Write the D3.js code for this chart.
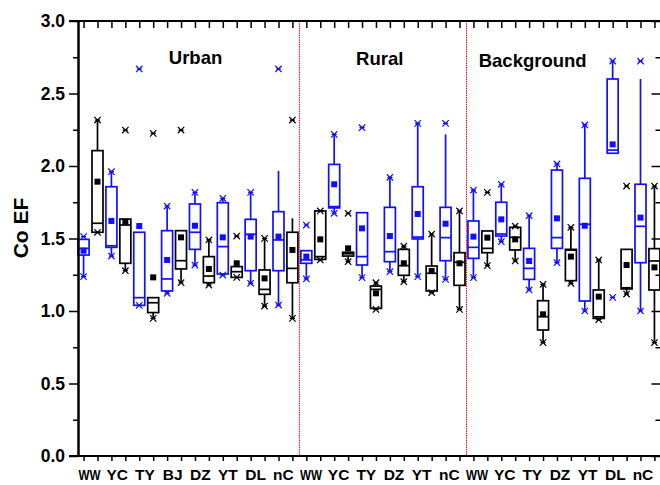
<!DOCTYPE html>
<html>
<head>
<meta charset="utf-8">
<script src="https://cdn.jsdelivr.net/npm/d3@7"></script>
<style>
  html, body { margin: 0; padding: 0; background: #fff; }
  svg { display: block; }
  text { font-family: "Liberation Sans", Arial, sans-serif; font-weight: bold; }
</style>
</head>
<body>
<script>
// Site groups and site codes along the x axis
const groups = ["Urban", "Rural", "Background"];
const urbanSites = ["WW", "YC", "TY", "BJ", "DZ", "YT", "DL", "nC"];
const ruralSites = ["WW", "YC", "TY", "DZ", "YT", "nC"];
const backgroundSites = ["WW", "YC", "TY", "DZ", "YT", "DL", "nC"];
const yTicks = [0, 0.5, 1.0, 1.5, 2.0, 2.5, 3.0];

// Blue series: box statistics per site (Urban, Rural, Background order)
const blueLow    = [1.237,1.379,1.039,1.122,1.317,1.248,1.191,1.041, 1.221,1.674,1.230,1.271,1.237,1.218, 1.230,1.478,1.145,1.333,1.000,2.088,1.000];
const blueQ1     = [1.386,1.439,1.039,1.138,1.425,1.255,1.278,1.278, 1.329,1.711,1.317,1.340,1.497,1.347, 1.363,1.517,1.218,1.432,1.069,2.088,1.333];
const blueMedian = [1.432,1.450,1.092,1.221,1.543,1.444,1.529,1.490, 1.352,1.720,1.375,1.409,1.510,1.506, 1.439,1.531,1.294,1.506,1.598,2.110,1.584];
const blueQ3     = [1.494,1.857,1.543,1.554,1.738,1.747,1.632,1.685, 1.416,2.011,1.678,1.715,1.857,1.715, 1.621,1.750,1.432,1.972,1.915,2.600,1.874];
const blueHigh   = [1.494,1.961,1.543,1.724,1.818,1.777,1.818,1.966, 1.416,2.218,1.678,1.922,2.294,2.218, 1.834,1.874,1.657,2.014,2.283,2.724,2.600];
const blueMean   = [1.416,1.621,1.586,1.352,1.588,1.508,1.513,1.513, 1.375,1.874,1.570,1.517,1.669,1.602, 1.513,1.632,1.345,1.639,1.588,2.149,1.644];
const blueMin    = [1.237,1.379,1.039,1.122,1.317,1.248,1.191,1.041, 1.221,1.674,1.230,1.271,1.237,1.218, 1.230,1.478,1.145,1.333,1.000,1.094,1.000];
const blueMax    = [1.513,1.961,2.669,1.724,1.818,1.777,1.818,2.669, 1.593,2.218,2.264,1.922,2.294,2.294, 1.834,1.874,1.657,2.014,2.283,2.724,2.724];

// Black series: box statistics per site (same order)
const blackLow    = [1.543,1.278,0.949,1.195,1.179,1.232,1.034,0.949, 1.352,1.340,1.011,1.202,1.127,1.011, 1.313,1.345,0.782,1.191,0.940,1.117,0.782];
const blackQ1     = [1.543,1.329,0.989,1.290,1.195,1.232,1.115,1.195, 1.356,1.379,1.018,1.246,1.138,1.177, 1.402,1.421,0.869,1.209,0.949,1.152,1.145];
const blackMedian = [1.605,1.593,1.057,1.347,1.241,1.271,1.149,1.294, 1.375,1.395,1.149,1.313,1.260,1.336, 1.432,1.508,0.961,1.420,0.960,1.160,1.345];
const blackQ3     = [2.106,1.634,1.092,1.554,1.375,1.306,1.283,1.543, 1.690,1.405,1.172,1.425,1.310,1.402, 1.552,1.577,1.071,1.425,1.145,1.425,1.430];
const blackHigh   = [2.317,1.634,1.092,1.554,1.490,1.306,1.501,1.639, 1.690,1.405,1.195,1.448,1.531,1.690, 1.552,1.586,1.184,1.577,1.352,1.425,1.862];
const blackMean   = [1.892,1.616,1.232,1.508,1.290,1.329,1.225,1.421, 1.494,1.432,1.122,1.329,1.276,1.329, 1.506,1.494,0.977,1.375,1.099,1.317,1.301];
const blackMin    = [1.543,1.278,0.949,1.195,1.179,1.232,1.034,0.949, 1.352,1.340,1.011,1.202,1.127,1.011, 1.313,1.345,0.782,1.191,0.940,1.117,0.782];
const blackMax    = [2.317,2.248,2.225,2.248,1.490,1.517,1.501,2.317, 1.690,1.674,1.195,1.448,1.531,1.690, 1.818,1.586,1.184,1.577,1.352,1.862,1.862];

// ---- build box records (blue then black for each site) ----
const siteLists = [urbanSites, ruralSites, backgroundSites];
const sites = [];
siteLists.forEach((list, g) => list.forEach(s => sites.push({ group: g, code: s })));

const series = [
  { color: "#1010ff", low: blueLow, q1: blueQ1, med: blueMedian, q3: blueQ3, high: blueHigh, mean: blueMean, min: blueMin, max: blueMax },
  { color: "#000000", low: blackLow, q1: blackQ1, med: blackMedian, q3: blackQ3, high: blackHigh, mean: blackMean, min: blackMin, max: blackMax }
];

const boxes = [];
sites.forEach((s, i) => {
  series.forEach((sr, k) => {
    boxes.push({
      pos: i * 2 + k, color: sr.color,
      low: sr.low[i], q1: sr.q1[i], med: sr.med[i], q3: sr.q3[i], high: sr.high[i],
      mean: sr.mean[i], min: sr.min[i], max: sr.max[i]
    });
  });
});

// ---- layout ----
const W = 660, H = 485;
const svg = d3.select("body").append("svg").attr("width", W).attr("height", H);

const x = d3.scaleLinear().domain([-0.4, boxes.length - 0.6]).range([78, 660]);
const y = d3.scaleLinear().domain([0, 3]).range([456, 21]);
const minorTicks = d3.range(0.25, 3, 0.5);

// group separators (dotted red)
const groupEnds = [];
let acc = 0;
siteLists.slice(0, -1).forEach(l => { acc += l.length * 2; groupEnds.push(acc - 0.5); });
svg.append("g").selectAll("line").data(groupEnds).join("line")
  .attr("x1", d => x(d)).attr("x2", d => x(d))
  .attr("y1", y(3)).attr("y2", y(0))
  .attr("stroke", "#ff0000").attr("stroke-width", 1)
  .attr("stroke-dasharray", "1.5,0.8");

// ---- boxes ----
const halfW = 5.5;
const bg = svg.append("g").selectAll("g").data(boxes).join("g")
  .attr("stroke", d => d.color).attr("fill", "none").attr("stroke-width", 1.7);

// whiskers
bg.append("line").attr("x1", d => x(d.pos)).attr("x2", d => x(d.pos))
  .attr("y1", d => y(d.q3)).attr("y2", d => y(d.high));
bg.append("line").attr("x1", d => x(d.pos)).attr("x2", d => x(d.pos))
  .attr("y1", d => y(d.q1)).attr("y2", d => y(d.low));
// box
bg.append("rect")
  .attr("x", d => x(d.pos) - halfW).attr("width", halfW * 2)
  .attr("y", d => y(d.q3)).attr("height", d => Math.max(0.5, y(d.q1) - y(d.q3)));
// median
bg.append("line").attr("x1", d => x(d.pos) - halfW).attr("x2", d => x(d.pos) + halfW)
  .attr("y1", d => y(d.med)).attr("y2", d => y(d.med));
// mean square
bg.append("rect")
  .attr("x", d => x(d.pos) - 3).attr("y", d => y(d.mean) - 3)
  .attr("width", 6).attr("height", 6)
  .attr("fill", d => d.color).attr("stroke", "none");

// min / max cross markers
function cross(sel, key) {
  const s = 3.2;
  const g = sel.append("g").attr("stroke-width", 1.2)
    .attr("transform", d => `translate(${x(d.pos)},${y(d[key])})`);
  g.append("path").attr("d", `M${-s},${-s}L${s},${s}M${-s},${s}L${s},${-s}M${-s * 0.8},0H${s * 0.8}`);
}
cross(bg, "min");
cross(bg, "max");

// ---- axes ----
const axisStyle = g => {
  g.select(".domain").attr("stroke", "#000").attr("stroke-width", 2);
  g.selectAll(".tick line").attr("stroke", "#000").attr("stroke-width", 1.5);
};

// left: labelled major ticks + minor ticks
svg.append("g").attr("transform", `translate(${x.range()[0]},0)`)
  .call(d3.axisLeft(y).tickValues(minorTicks).tickSize(5).tickFormat("").tickSizeOuter(0))
  .call(axisStyle);
const yAxis = svg.append("g").attr("transform", `translate(${x.range()[0]},0)`)
  .call(d3.axisLeft(y).tickValues(yTicks).tickFormat(d3.format(".1f")).tickSize(9).tickPadding(4).tickSizeOuter(0))
  .call(axisStyle);
yAxis.selectAll("text").attr("font-size", 17.5).attr("fill", "#000")
  .attr("font-family", '"Liberation Sans", Arial, sans-serif').attr("font-weight", "bold");

// right: inward ticks
const xr = x.range()[1] + 1.5;
svg.append("g").attr("transform", `translate(${xr},0)`)
  .call(d3.axisLeft(y).tickValues(yTicks).tickSize(10).tickFormat("").tickSizeOuter(0))
  .call(axisStyle);
svg.append("g").attr("transform", `translate(${xr},0)`)
  .call(d3.axisLeft(y).tickValues(minorTicks).tickSize(6).tickFormat("").tickSizeOuter(0))
  .call(axisStyle);

// bottom: outward tick at every box
svg.append("g").attr("transform", `translate(0,${y(0)})`)
  .call(d3.axisBottom(x).tickValues(d3.range(boxes.length)).tickSize(5).tickFormat("").tickSizeOuter(0))
  .call(axisStyle)
  .select(".domain").attr("d", `M${x.range()[0] - 9},0H${xr}`);

// top: inward tick at every box
svg.append("g").attr("transform", `translate(0,${y(3)})`)
  .call(d3.axisBottom(x).tickValues(d3.range(boxes.length)).tickSize(7).tickFormat("").tickSizeOuter(0))
  .call(axisStyle)
  .select(".domain").attr("d", `M${x.range()[0] - 9},0H${xr}`);

// site labels under each blue/black pair
const labelX = d3.scalePoint().domain(d3.range(sites.length)).range([89.6, 643]);
svg.append("g").selectAll("text").data(sites).join("text")
  .attr("x", (d, i) => labelX(i)).attr("y", 480)
  .attr("text-anchor", "middle").attr("font-size", 15.5).attr("fill", "#000")
  .each(function (d) { if (d.code === "WW") d3.select(this).attr("textLength", 22).attr("lengthAdjust", "spacingAndGlyphs"); })
  .text(d => d.code);

// group titles
const titlePos = [[195.5, 64], [379.7, 65], [532.7, 67]];
svg.append("g").selectAll("text").data(groups).join("text")
  .attr("x", (d, i) => titlePos[i][0]).attr("y", (d, i) => titlePos[i][1])
  .attr("text-anchor", "middle").attr("font-size", 18.5).attr("fill", "#000")
  .text(d => d);

// y axis title
svg.append("text")
  .attr("transform", "translate(28,228) rotate(-90)")
  .attr("text-anchor", "middle").attr("font-size", 21).attr("fill", "#000")
  .text("Co EF");
</script>
</body>
</html>
